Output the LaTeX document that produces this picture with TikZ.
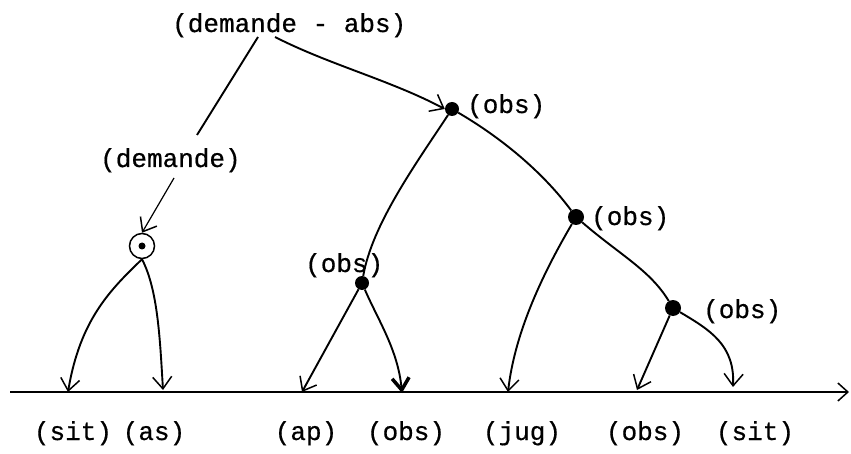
\documentclass[tikz,border=0pt]{standalone}
\usepackage{fontspec}
\newfontfamily\twfont[FakeBold=0.6]{Liberation Mono}
\usetikzlibrary{arrows.meta}
\begin{document}
\begin{tikzpicture}[x=1pt,y=-1pt,
  lab/.style={font=\twfont\fontsize{26}{30}\selectfont, inner sep=0pt},
  dotnode/.style={circle, fill=black, inner sep=0pt, minimum size=14pt},
  edge/.style={line width=1.9pt},
  tip/.style={edge, -{Straight Barb[length=12pt,width=19pt,line width=1.5pt]}},
  boldtip/.style={edge, -{Straight Barb[length=12pt,width=17pt,line width=3.5pt]}}]
\useasboundingbox (0,0) rectangle (851,454);
% labels
\node[lab, anchor=base west] (top) at (172,32) {(demande - abs)};
\node[lab, anchor=base west] (dem) at (100,167) {(demande)};
\node[lab, anchor=base west] (l1) at (467,113) {(obs)};
\node[lab, anchor=base west] (l2) at (591,225) {(obs)};
\node[lab, anchor=base west] (l3) at (703,318) {(obs)};
\node[lab, anchor=base west] (l4) at (305,272) {(obs)};
\node[lab, anchor=base] (b1) at (73,440) {(sit)};
\node[lab, anchor=base] (b2) at (154,440) {(as)};
\node[lab, anchor=base] (b3) at (306,440) {(ap)};
\node[lab, anchor=base] (b4) at (406,440) {(obs)};
\node[lab, anchor=base] (b5) at (522,440) {(jug)};
\node[lab, anchor=base] (b6) at (645,440) {(obs)};
\node[lab, anchor=base] (b7) at (755,440) {(sit)};
% tree nodes
\node[circle, draw, line width=1.5pt, minimum size=25pt, inner sep=0pt] (c) at (142,246) {};
\node[circle, fill=black, minimum size=7pt, inner sep=0pt] (cd) at (142,246) {};
\node[dotnode] (o1) at (452,109) {};
\node[dotnode, minimum size=16pt] (o2) at (576,217) {};
\node[dotnode, minimum size=16pt] (o3) at (673,308) {};
\node[dotnode] (o4) at (362,283) {};
% baseline
\coordinate (s) at (10,392);
\coordinate (e) at (849,392);
\draw[line width=2pt, -{Straight Barb[length=10pt,width=18pt,line width=1.5pt]}] (s) -- (e);
% arrow ends
\coordinate (t1) at (68,392);
\coordinate (t2) at (163,390);
\coordinate (t3) at (302,392);
\coordinate (t4) at (402,393);
\coordinate (t5) at (508,392);
\coordinate (t6) at (637,390);
\coordinate (t7) at (733,387);
\coordinate (ta) at (258,37);
\coordinate (tb) at (197,135);
\coordinate (tc) at (174,178);
\coordinate (td) at (275,37);
% connectors
\draw[edge] (ta) -- (tb);
\draw[tip, line width=1.2pt] (tc) -- (c.north);
\draw[tip] (td) .. controls (330,65) and (390,80) .. (o1.west);
\draw[edge] (o1) .. controls (505,140) and (545,175) .. (o2);
\draw[edge] (o2) .. controls (620,255) and (650,270) .. (o3);
\draw[edge] (o1) .. controls (415,165) and (372,225) .. (o4);
\draw[tip] (c.south) .. controls (110,290) and (80,320) .. (t1);
\draw[tip] (c.south) .. controls (158,290) and (160,340) .. (t2);
\draw[tip] (o4) -- (t3);
\draw[boldtip] (o4) .. controls (378,320) and (398,350) .. (t4);
\draw[tip] (o2) .. controls (545,270) and (515,330) .. (t5);
\draw[tip] (o3) -- (t6);
\draw[tip] (o3) .. controls (710,330) and (735,345) .. (t7);
\end{tikzpicture}
\end{document}
